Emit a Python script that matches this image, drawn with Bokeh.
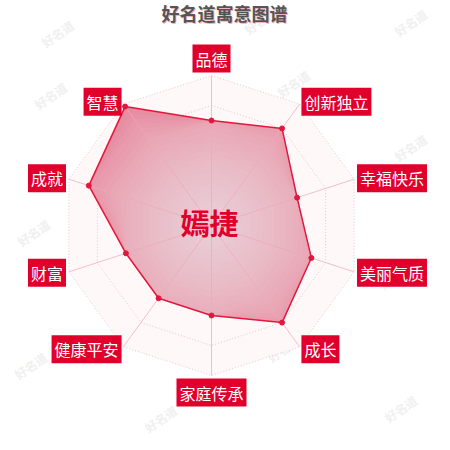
import numpy as np
from bokeh.plotting import figure
from bokeh.models import Range1d, ColumnDataSource
from bokeh.core.properties import value
from bokeh.embed import file_html
from bokeh.resources import INLINE

title = "好名道寓意图谱"
name = "嫣捷"
categories = ["品德", "创新独立", "幸福快乐", "美丽气质", "成长",
              "家庭传承", "健康平安", "财富", "成就", "智慧"]
scores = [70, 80, 60, 70, 80, 60, 60, 60, 86, 98]
max_score = 100
levels = [20, 40, 60, 80, 100]

FONT = "Noto Sans CJK SC"
RED = "#e0002b"
S = 1.5            # px per score unit
CX, CY = 211, 225  # radar centre in page px
W = 442

p = figure(width=W, height=W,
           x_range=Range1d((0 - CX) / S, (W - CX) / S),
           y_range=Range1d(-(W - CY) / S, (CY - 0) / S),
           output_backend="svg", toolbar_location=None, min_border=0)
p.axis.visible = False
p.grid.visible = False
p.outline_line_color = None
p.background_fill_color = "white"

n = len(categories)
ang = np.pi / 2 - 2 * np.pi * np.arange(n) / n
cs, sn = np.cos(ang), np.sin(ang)

# watermarks
wm = [(50, 95), (293, 83), (410, 147), (410, 22), (57, 33), (33, 232),
      (30, 365), (160, 418), (283, 348), (400, 408), (395, 275), (260, 20)]
p.text(x=[(a - CX) / S for a, b in wm], y=[(CY - b) / S for a, b in wm],
       text=["好名道"] * len(wm), angle=0.6, text_font=value(FONT),
       text_font_size="12px", text_color="#f0f0f0", text_font_style="bold",
       text_align="center", text_baseline="middle")

# background area
p.patch(list(max_score * cs), list(max_score * sn), fill_color="#fef8f9",
        line_color=None)
for lv in levels:
    p.patch(list(lv * cs), list(lv * sn), fill_color=None,
            line_color="#eec3cc", line_dash="1 2", line_width=1)

sc = np.array(scores, dtype=float)
# polygon with radial lightening towards centre
p.patch(list(sc * cs), list(sc * sn), fill_color="#e4849a", line_color=None)
for rk in range(100, 0, -4):
    r = np.minimum(sc, rk)
    p.patch(list(r * cs), list(r * sn), fill_color="white", fill_alpha=0.045,
            line_color=None)

# spokes
for i in range(n):
    p.line([0, max_score * cs[i]], [0, max_score * sn[i]],
           line_color="#f0a6b5", line_alpha=0.7, line_width=1)

p.patch(list(sc * cs), list(sc * sn), fill_color=None, line_color="#e3173e",
        line_width=1.5)
p.scatter(sc * cs, sc * sn, size=5, fill_color="#e3173e", line_color="#e3173e")

# axis labels
lr = 153 / S
lx, ly, al, bl = [], [], [], []
for i in range(n):
    lx.append(lr * cs[i]); ly.append(lr * sn[i])
    if abs(cs[i]) < 1e-6:
        al.append("center"); bl.append("bottom" if sn[i] > 0 else "top")
    elif cs[i] > 0:
        al.append("left"); bl.append("middle")
    else:
        al.append("right"); bl.append("middle")
src = ColumnDataSource(dict(x=lx, y=ly, t=categories, a=al, b=bl))
p.text(x="x", y="y", text="t", source=src, text_align="a", text_baseline="b",
       text_font=value(FONT), text_font_size="16px", text_color="white",
       background_fill_color=RED, padding=[3, 2])

# centre name
p.text(x=[(209 - CX) / S], y=[(CY - 221) / S], text=[name],
       text_font=value(FONT), text_font_size="29px", text_font_style="bold",
       text_color=RED, text_align="center", text_baseline="middle")

# title with pink shadow
tx, ty = (224 - CX) / S, (CY - 12) / S
p.text(x=[tx + 1 / S], y=[ty - 1 / S], text=[title], text_font=value(FONT),
       text_font_size="18px", text_font_style="bold", text_color="#f2b3c0",
       text_align="center", text_baseline="middle")
p.text(x=[tx], y=[ty], text=[title], text_font=value(FONT),
       text_font_size="18px", text_font_style="bold", text_color="#555555",
       text_align="center", text_baseline="middle")

open("out.html", "w").write(file_html(p, INLINE))
